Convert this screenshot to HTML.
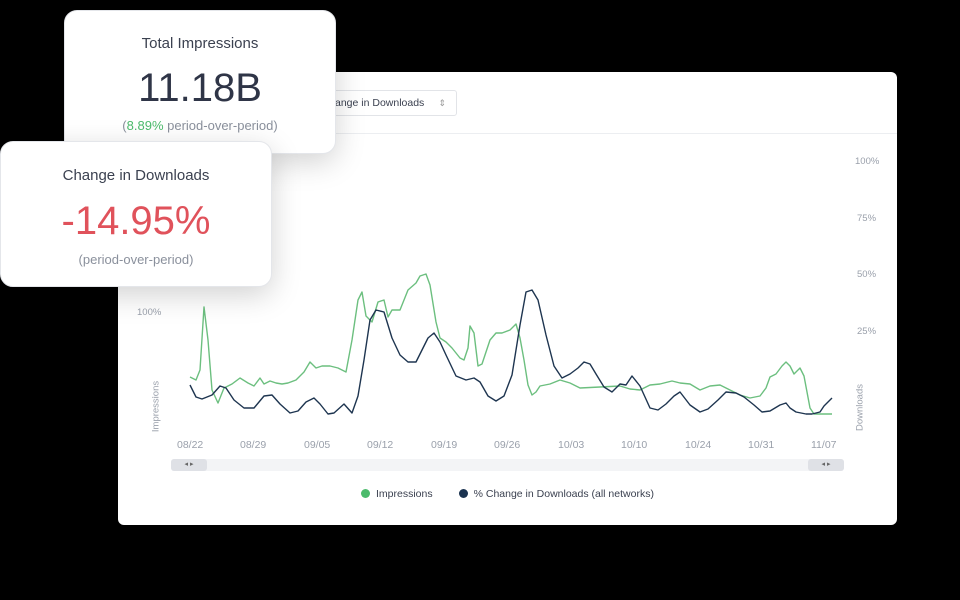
<!DOCTYPE html>
<html><head><meta charset="utf-8"><style>
body{margin:0;width:960px;height:600px;background:#000;position:relative;overflow:hidden;font-family:"Liberation Sans",sans-serif;}
.panel{position:absolute;left:118px;top:72px;width:779px;height:453px;background:#fff;border-radius:6px;}
.card{position:absolute;background:#fff;border-radius:13px;box-shadow:0 8px 30px rgba(0,0,0,0.18);text-align:center;border:1px solid #e4e6ea;}
.t{color:#3b4150;font-size:15px}
.lbl{position:absolute;font-size:9.5px;color:#9aa0ab}
</style></head><body>
<div class="panel">
  <div style="position:absolute;left:0;right:0;top:61px;border-top:1px solid #eceef1"></div>
  <div style="position:absolute;left:200px;top:18px;width:137px;height:24px;border:1px solid #e2e4e8;border-radius:3px;font-size:10.5px;color:#3b4150;line-height:24px;text-indent:16px">ange in Downloads<span style="position:absolute;right:10px;color:#999;font-size:9px">⇕</span></div>
</div>
<div class="lbl" style="left:855px;top:156px">100%</div>
<div class="lbl" style="left:857px;top:213px">75%</div>
<div class="lbl" style="left:857px;top:269px">50%</div>
<div class="lbl" style="left:857px;top:326px">25%</div>
<div class="lbl" style="left:137px;top:307px">100%</div>
<div class="lbl" style="left:126px;top:401px;transform:rotate(-90deg);width:60px;text-align:center">Impressions</div>
<div class="lbl" style="left:830px;top:402px;transform:rotate(-90deg);width:60px;text-align:center">Downloads</div>
<div class="lbl" style="top:439px;left:0;width:960px;font-size:10.5px">
<span style="position:absolute;left:177px">08/22</span><span style="position:absolute;left:240px">08/29</span><span style="position:absolute;left:304px">09/05</span><span style="position:absolute;left:367px">09/12</span><span style="position:absolute;left:431px">09/19</span><span style="position:absolute;left:494px">09/26</span><span style="position:absolute;left:558px">10/03</span><span style="position:absolute;left:621px">10/10</span><span style="position:absolute;left:685px">10/24</span><span style="position:absolute;left:748px">10/31</span><span style="position:absolute;left:811px">11/07</span></div>
<div style="position:absolute;left:171px;top:459px;width:673px;height:12px;background:#f3f4f6;border-radius:3px"></div>
<div style="position:absolute;left:171px;top:459px;width:36px;height:12px;background:#dfe1e6;border-radius:3px;font-size:7px;color:#666;text-align:center;line-height:12px">◂ ▸</div>
<div style="position:absolute;left:808px;top:459px;width:36px;height:12px;background:#dfe1e6;border-radius:3px;font-size:7px;color:#666;text-align:center;line-height:12px">◂ ▸</div>
<div style="position:absolute;top:488px;left:361px;font-size:10.5px;color:#3b4150;white-space:nowrap">
<span style="display:inline-block;width:9px;height:9px;border-radius:50%;background:#4cbb6c;vertical-align:-1px;margin-right:6px"></span>Impressions<span style="display:inline-block;width:9px;height:9px;border-radius:50%;background:#1b3350;vertical-align:-1px;margin:0 6px 0 26px"></span>% Change in Downloads (all networks)</div>
<svg width="960" height="600" style="position:absolute;left:0;top:0">
<polyline fill="none" stroke="#6cbf7f" stroke-width="1.4" stroke-linejoin="round" points="190,377 196,380 200,370 204,307 208,340 212,390 218,403 224,388 232,384 240,378 248,383 254,386 260,378 264,384 270,381 276,383 282,384 288,383 296,380 304,372 310,362 316,368 322,366 330,366 338,368 346,372 352,340 358,300 362,292 366,316 372,322 378,302 384,300 388,317 392,310 400,310 408,290 416,283 420,276 426,274 430,285 436,322 440,338 446,342 452,348 460,358 464,360 468,348 470,326 474,333 478,366 482,364 490,340 496,333 502,333 510,330 516,324 520,338 524,360 528,385 532,395 536,392 540,386 550,384 560,380 570,383 580,388 600,387 620,386 630,389 640,390 650,385 660,384 672,381 680,383 690,384 700,390 710,386 720,385 730,390 740,395 750,398 760,396 766,388 770,377 776,374 782,366 786,362 790,366 794,374 800,368 804,376 810,408 814,414 832,414"/>
<polyline fill="none" stroke="#1e3550" stroke-width="1.4" stroke-linejoin="round" points="190,385 196,397 202,399 212,395 220,386 226,388 234,400 244,408 254,408 264,396 272,395 280,404 290,413 298,411 306,402 314,398 320,404 328,414 334,413 344,404 352,413 358,396 364,360 370,320 376,310 384,312 392,338 400,355 408,362 416,362 428,338 434,333 440,342 446,355 456,376 466,380 474,378 480,382 488,396 496,401 504,396 512,375 520,325 526,292 532,290 538,300 546,335 554,366 562,378 570,374 578,368 584,362 590,364 596,374 604,387 612,392 620,384 626,385 632,376 640,386 650,408 658,410 666,404 674,396 680,392 690,405 700,412 708,409 718,400 726,392 736,393 744,397 754,405 762,412 770,411 780,405 786,403 790,408 796,412 806,414 812,414 820,412 824,406 832,398"/>
</svg>
<div class="card" style="left:64px;top:10px;width:270px;height:142px">
  <div class="t" style="margin-top:24px">Total Impressions</div>
  <div style="font-size:40px;color:#2f3547;margin-top:14px;line-height:44px">11.18B</div>
  <div style="font-size:13px;color:#8a909c;margin-top:8px">(<span style="color:#4cbb6c">8.89%</span> period-over-period)</div>
</div>
<div class="card" style="left:0;top:141px;width:270px;height:144px">
  <div class="t" style="margin-top:25px">Change in Downloads</div>
  <div style="font-size:40px;color:#e0525b;margin-top:15px;line-height:44px">-14.95%</div>
  <div style="font-size:13px;color:#8a909c;margin-top:9px">(period-over-period)</div>
</div>
</body></html>
